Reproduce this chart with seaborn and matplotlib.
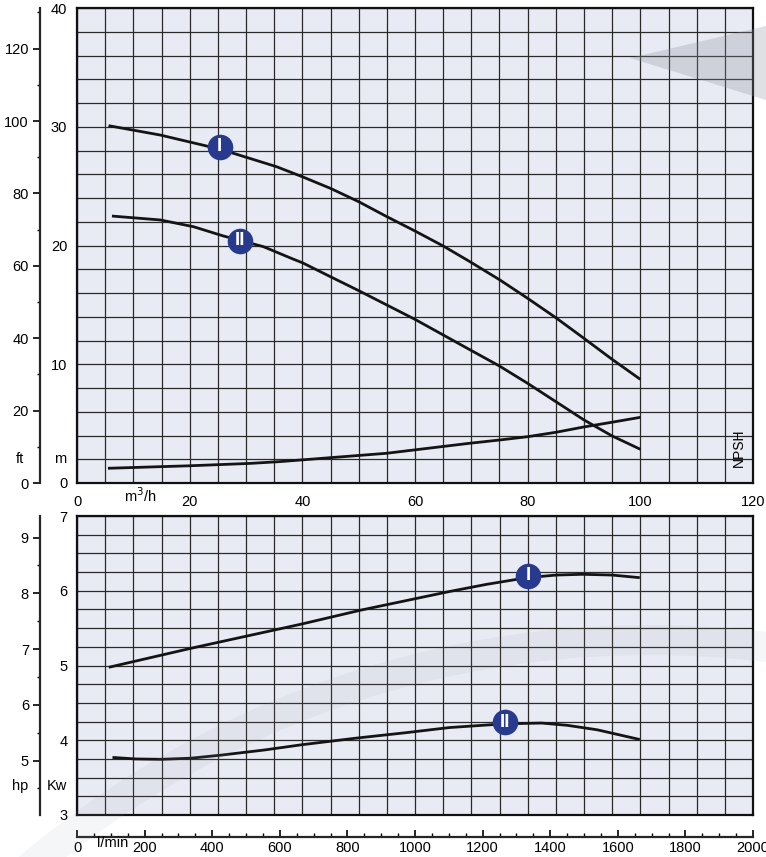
import numpy as np
import matplotlib
matplotlib.use('Agg')
import matplotlib.pyplot as plt
import seaborn as sns
from matplotlib.patches import Polygon, Wedge
from matplotlib.ticker import MultipleLocator, FixedLocator, NullFormatter

sns.set_style('ticks')
plt.rcParams['font.family'] = ['Liberation Sans', 'DejaVu Sans']
plt.rcParams['font.size'] = 10.5
plt.rcParams['text.color'] = 'black'
plt.rcParams['xtick.color'] = 'black'
plt.rcParams['ytick.color'] = 'black'
plt.rcParams['xtick.labelcolor'] = 'black'
plt.rcParams['ytick.labelcolor'] = 'black'

# head curves: flow (m3/h) vs head (m)
q_head_1 = [5.6, 14.8, 23.0, 27.8, 35.4, 40, 45, 50, 55, 60, 65, 69.6, 75, 80, 85, 90, 95, 100]
h_head_1 = [30.09, 29.3, 28.38, 27.76, 26.64, 25.79, 24.81, 23.69, 22.43, 21.22, 19.96, 18.68,
            17.12, 15.55, 13.92, 12.18, 10.41, 8.73]
q_head_2 = [6.2, 14.8, 20.7, 26.0, 33.1, 38.4, 40, 45, 50, 55, 60, 69.6, 75, 80, 85, 90, 95, 100]
h_head_2 = [22.48, 22.15, 21.58, 20.8, 19.9, 18.85, 18.55, 17.37, 16.2, 14.99, 13.78, 11.26,
            9.85, 8.39, 6.85, 5.31, 3.96, 2.84]
q_npsh = [5.5, 20, 30.7, 36, 54.9, 69.6, 75, 80, 85, 90, 95, 100]
h_npsh = [1.24, 1.45, 1.65, 1.8, 2.5, 3.34, 3.62, 3.9, 4.27, 4.72, 5.12, 5.53]

# power curves: flow (l/min) vs power (kW)
q_pow_1 = [94, 337, 665, 839, 1102, 1211, 1331, 1418, 1495, 1583, 1665]
p_pow_1 = [4.976, 5.23, 5.555, 5.74, 5.99, 6.085, 6.175, 6.21, 6.22, 6.21, 6.175]
q_pow_2 = [105, 173, 249, 337, 424, 555, 665, 829, 971, 1102, 1266, 1375, 1450, 1539, 1665]
p_pow_2 = [3.77, 3.75, 3.745, 3.76, 3.80, 3.87, 3.94, 4.03, 4.10, 4.17, 4.22, 4.23, 4.20, 4.14, 4.01]

# curve badges
badge_head = [(25.3, 28.3, 'I'), (28.9, 20.4, 'II')]
badge_pow = [(1334, 6.2, 'I'), (1266, 4.24, 'II')]

W, H = 766, 857
face = '#e8ebf3'
grid_c = '#2a2a2a'
line_c = '#141414'
navy = '#283a8e'

fig = plt.figure(figsize=(W / 100, H / 100), dpi=100)
ax_h = fig.add_axes([77 / W, 1 - 483 / H, 676 / W, 475 / H])
ax_p = fig.add_axes([77 / W, 1 - 815 / H, 676 / W, 299 / H])

for ax in (ax_h, ax_p):
    ax.set_facecolor(face)
    for s in ax.spines.values():
        s.set_linewidth(1.6)
        s.set_color('#111111')
    ax.grid(which='both', color=grid_c, lw=0.9)
    ax.set_axisbelow(True)
    ax.tick_params(which='both', length=0)

# head panel
ax_h.set_xlim(0, 120)
ax_h.set_ylim(0, 40)
ax_h.xaxis.set_major_locator(MultipleLocator(20))
ax_h.xaxis.set_minor_locator(MultipleLocator(5))
ax_h.yaxis.set_major_locator(MultipleLocator(10))
ax_h.yaxis.set_minor_locator(MultipleLocator(2))
ax_h.tick_params(axis='x', pad=9)
ax_h.tick_params(axis='y', pad=7)

for q, h in ((q_head_1, h_head_1), (q_head_2, h_head_2), (q_npsh, h_npsh)):
    sns.lineplot(x=q, y=h, ax=ax_h, color=line_c, lw=2.0, sort=False, estimator=None,
                 solid_joinstyle='round', solid_capstyle='butt')

ax_ft = ax_h.secondary_yaxis(-0.0547, functions=(lambda m: m * 3.28084, lambda f: f / 3.28084))
ax_ft.set_yticks(np.arange(0, 121, 20))
ax_ft.set_yticks(np.arange(10, 131, 20), minor=True)
ax_ft.tick_params(which='major', length=5, width=1.2, pad=3)
ax_ft.tick_params(which='minor', length=2.5, width=1.0)
ax_ft.spines['left'].set_linewidth(1.6)

ax_h.text(117.5, 3.0, 'NPSH', rotation=90, ha='center', va='center', fontsize=10)

# power panel
ax_p.set_xlim(0, 2000)
ax_p.set_ylim(3, 7)
ax_p.xaxis.set_major_locator(FixedLocator(np.linspace(0, 2000, 25)))
ax_p.xaxis.set_major_formatter(NullFormatter())
ax_p.yaxis.set_major_locator(MultipleLocator(1))
ax_p.yaxis.set_minor_locator(MultipleLocator(0.25))
ax_p.tick_params(axis='y', pad=7)

for q, p in ((q_pow_1, p_pow_1), (q_pow_2, p_pow_2)):
    sns.lineplot(x=q, y=p, ax=ax_p, color=line_c, lw=2.0, sort=False, estimator=None,
                 solid_joinstyle='round', solid_capstyle='butt')

ax_hp = ax_p.secondary_yaxis(-0.0547, functions=(lambda kw: kw / 0.7457, lambda hp: hp * 0.7457))
ax_hp.set_yticks(np.arange(5, 10, 1))
ax_hp.set_yticks(np.arange(4.5, 9.6, 1), minor=True)
ax_hp.tick_params(which='major', length=5, width=1.2, pad=3)
ax_hp.tick_params(which='minor', length=2.5, width=1.0)
ax_hp.spines['left'].set_linewidth(1.6)

ax_lpm = ax_p.secondary_xaxis(-0.0736)
ax_lpm.set_xticks(np.arange(0, 2001, 200))
ax_lpm.set_xticks(np.arange(0, 2001, 50), minor=True)
ax_lpm.tick_params(which='major', direction='in', length=5, width=1.2, pad=3)
ax_lpm.tick_params(which='minor', direction='in', length=3, width=1.0)
ax_lpm.spines['bottom'].set_linewidth(1.6)

# badges
for ax, badges in ((ax_h, badge_head), (ax_p, badge_pow)):
    for bx, by, lab in badges:
        ax.scatter([bx], [by], s=340, color=navy, zorder=5, linewidths=0)
        ax.text(bx, by, lab, color='white', fontweight='bold', fontsize=13.5,
                ha='center', va='center', zorder=6)

# faint background swooshes
fig.patches.append(Polygon([(630, H - 58), (766, H - 26), (766, H - 100)], closed=True,
                           transform=None, facecolor='#8d909c', alpha=0.28, lw=0, zorder=3))
fig.patches.append(Wedge((650, -743), 975, 75, 135, width=30, transform=None,
                         facecolor='#9a9dab', alpha=0.09, lw=0, zorder=3))

# unit labels
fig.text(20 / W, 1 - 459 / H, 'ft', ha='center', va='center')
fig.text(60 / W, 1 - 459 / H, 'm', ha='center', va='center')
fig.text(140 / W, 1 - 496 / H, 'm$^3$/h', ha='center', va='center')
fig.text(20 / W, 1 - 786 / H, 'hp', ha='center', va='center')
fig.text(57 / W, 1 - 786 / H, 'Kw', ha='center', va='center')
fig.text(113 / W, 1 - 843 / H, 'l/min', ha='center', va='center')

fig.savefig('out.png', dpi=100)
